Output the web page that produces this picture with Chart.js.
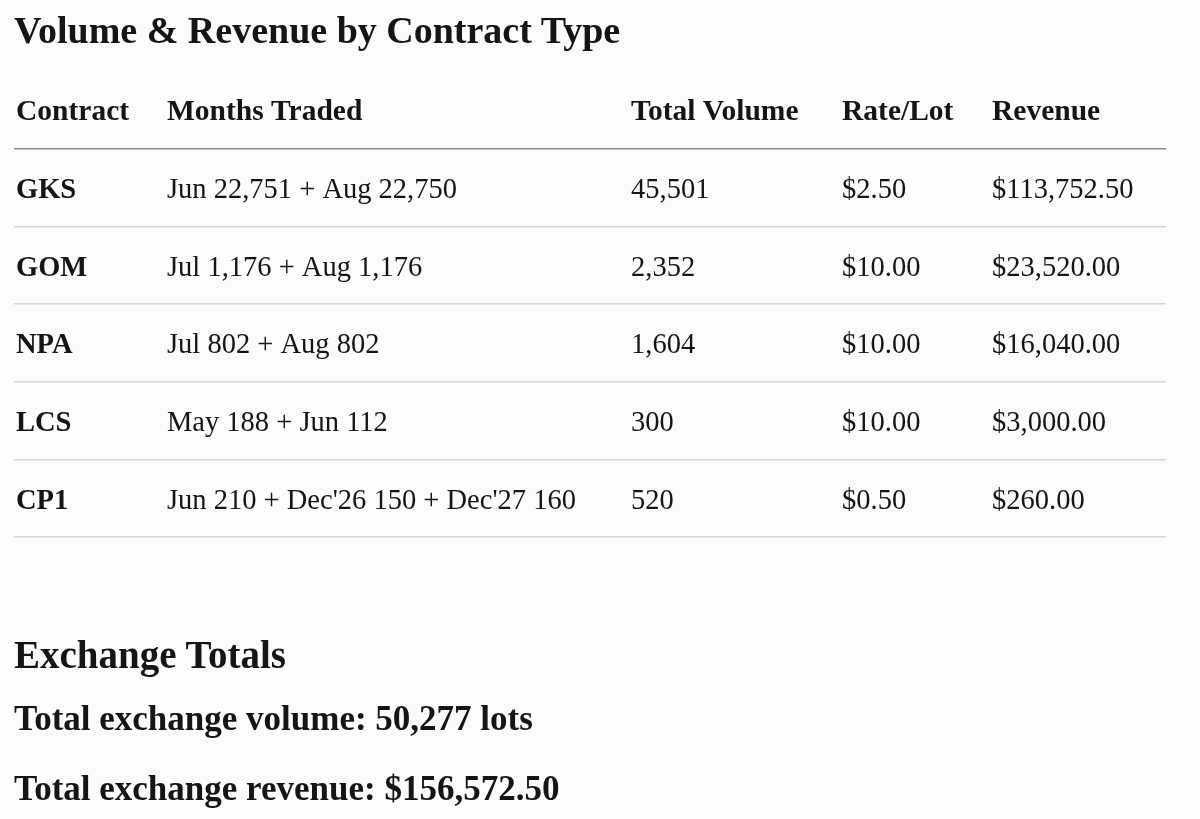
<!DOCTYPE html>
<html>
<head>
<meta charset="utf-8">
<script src="https://cdn.jsdelivr.net/npm/chart.js@4/dist/chart.umd.min.js"></script>
<style>
  body { margin: 0; background: #fbfbf9; font-family: "Liberation Serif", serif; color: #151515; }
  #wrap { position: absolute; left: 0; top: 0; width: 1200px; height: 819px; }
  .txt { position: absolute; left: 14px; margin: 0; white-space: nowrap; font-weight: bold; }
  #title { top: 11px; font-size: 38px; line-height: 38px; }
  #totalsHead { top: 635px; font-size: 39px; line-height: 39px; }
  #totalVol { top: 701px; font-size: 35px; line-height: 35px; }
  #totalRev { top: 771px; font-size: 35px; line-height: 35px; }
</style>
</head>
<body>
<div id="wrap"><canvas id="myChart"></canvas></div>
<h2 class="txt" id="title">Volume &amp; Revenue by Contract Type</h2>
<h3 class="txt" id="totalsHead">Exchange Totals</h3>
<p class="txt" id="totalVol"></p>
<p class="txt" id="totalRev"></p>
<script>
// table data ------------------------------------
const headers = ["Contract", "Months Traded", "Total Volume", "Rate/Lot", "Revenue"];
const contracts = ["GKS", "GOM", "NPA", "LCS", "CP1"];
const monthsTraded = [
  "Jun 22,751 + Aug 22,750",
  "Jul 1,176 + Aug 1,176",
  "Jul 802 + Aug 802",
  "May 188 + Jun 112",
  "Jun 210 + Dec'26 150 + Dec'27 160",
];
const totalVolume = [45501, 2352, 1604, 300, 520];
const ratePerLot = [2.5, 10, 10, 10, 0.5];
const revenue = [113752.5, 23520, 16040, 3000, 260];

// layout -----------------------------------------
const colX = [153, 617, 828, 978]; // left edge of columns 2..5, in x-scale units
const textShift = 3; // baseline nudge for every row, px
const serif = '"Liberation Serif", serif';
const ink = "#151515";

const fmtNum = (v) => v.toLocaleString("en-US");
const fmtMoney = (v) => "$" + v.toLocaleString("en-US", { minimumFractionDigits: 2, maximumFractionDigits: 2 });

// cells of the other columns, one list per row
function rowCells(i) {
  if (i === 0) return headers.slice(1);
  const k = i - 1;
  return [monthsTraded[k], fmtNum(totalVolume[k]), fmtMoney(ratePerLot[k]), fmtMoney(revenue[k])];
}

const tableText = {
  id: "tableText",
  afterDraw(chart) {
    const { ctx, scales } = chart;
    ctx.save();
    ctx.fillStyle = ink;
    ctx.textAlign = "left";
    ctx.textBaseline = "middle";
    for (let i = 0; i <= contracts.length; i++) {
      ctx.font = i === 0 ? "bold 29.5px " + serif : "28.5px " + serif;
      const y = scales.y.getPixelForValue(i) + textShift;
      rowCells(i).forEach((t, j) => {
        ctx.fillText(t, scales.x.getPixelForValue(colX[j]), y);
      });
    }
    ctx.restore();
  },
};

const chart = new Chart(document.getElementById("myChart"), {
  type: "bar",
  data: {
    labels: [headers[0], ...contracts],
    datasets: [],
  },
  plugins: [tableText],
  options: {
    responsive: true,
    maintainAspectRatio: false,
    animation: false,
    indexAxis: "y",
    layout: { padding: { left: 14, right: 34, top: 71, bottom: 282 } },
    plugins: { legend: { display: false }, tooltip: { enabled: false } },
    scales: {
      x: { type: "linear", min: 0, max: 1152, display: false },
      y: {
        type: "category",
        offset: true,
        afterFit(scale) { scale.width = 0; },
        border: { display: false },
        grid: {
          offset: true,
          drawTicks: false,
          lineWidth: 1.5,
          color: (c) => (c.index === 0 ? "rgba(0,0,0,0)" : c.index === 1 ? "#8a8a8a" : "#d6d6d4"),
        },
        ticks: {
          mirror: true,
          padding: 2,
          labelOffset: textShift,
          color: ink,
          font: (c) => ({ family: serif, weight: "bold", size: c.index === 0 ? 29.5 : 28.5 }),
        },
      },
    },
  },
});

// totals -----------------------------------------
const sumVolume = totalVolume.reduce((a, b) => a + b, 0);
const sumRevenue = revenue.reduce((a, b) => a + b, 0);
document.getElementById("totalVol").textContent = "Total exchange volume: " + fmtNum(sumVolume) + " lots";
document.getElementById("totalRev").textContent = "Total exchange revenue: " + fmtMoney(sumRevenue);
</script>
</body>
</html>
